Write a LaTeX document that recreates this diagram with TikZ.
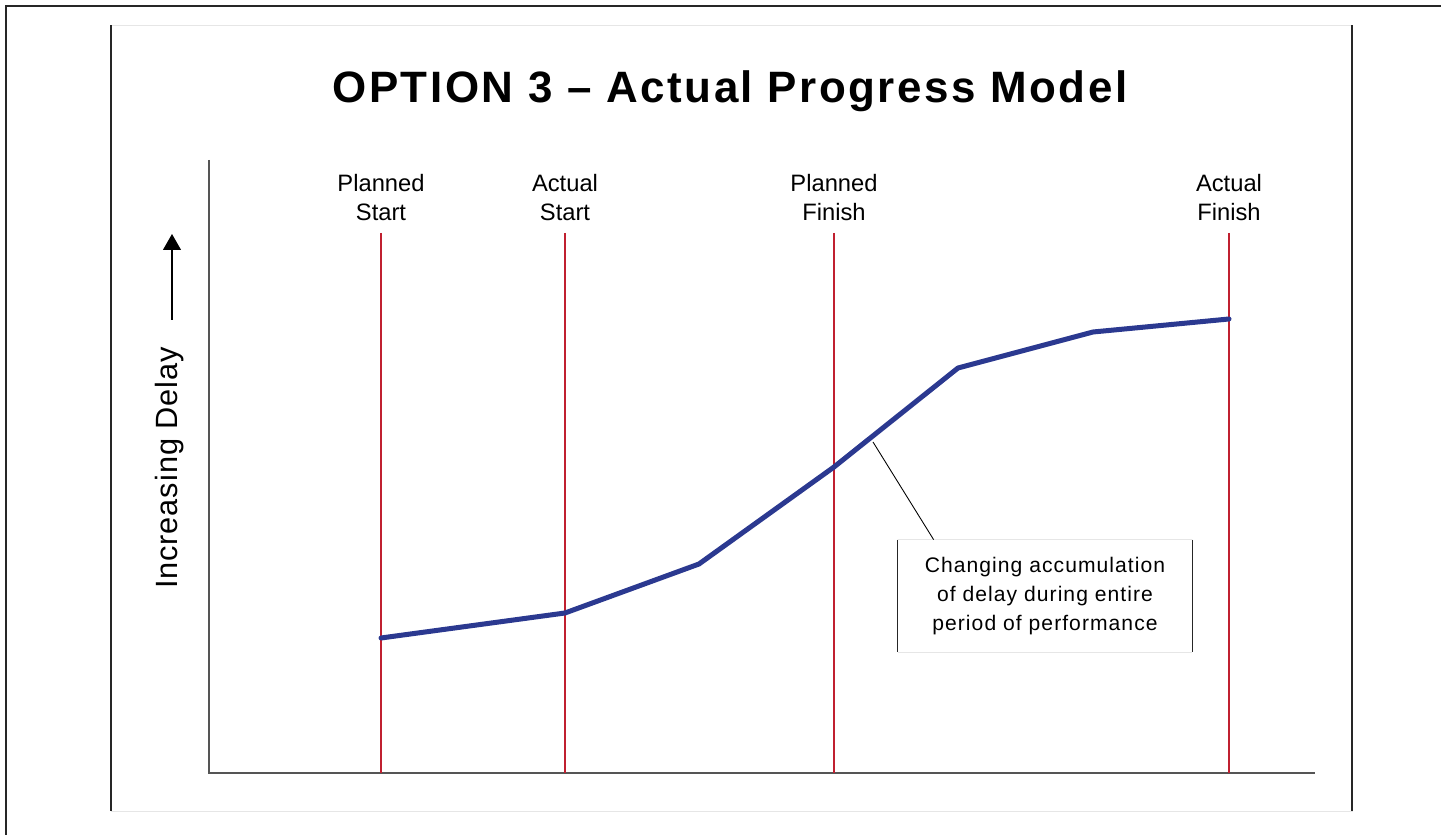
\documentclass[tikz,border=0pt]{standalone}
\usepackage{fontspec}
\setmainfont{Liberation Sans}
\newfontfamily\titlefont[LetterSpace=5.7]{Liberation Sans}
\newfontfamily\notefont[LetterSpace=5]{Liberation Sans}
\newfontfamily\sidefont[LetterSpace=3]{Liberation Sans}
\usetikzlibrary{arrows.meta,positioning,calc}
\definecolor{delayblue}{RGB}{43,57,144}
\definecolor{markred}{RGB}{192,32,48}
\definecolor{axisgray}{RGB}{85,85,85}
\definecolor{edgegray}{RGB}{230,230,230}

\begin{document}
\begin{tikzpicture}[x=0.02cm, y=0.02cm,
  frame/.style={line width=0.9pt, black!85},
  axis/.style={line width=0.85pt, axisgray},
  marker/.style={line width=0.6pt, markred},
  tag/.style={align=center, inner sep=0pt, font=\fontsize{13.5}{16.5}\selectfont},
  note/.style={align=center, inner sep=0pt, minimum width=5.88cm, minimum height=2.24cm,
    font=\notefont\fontsize{12}{16.5}\selectfont},
  progress/.style={line width=2.85pt, delayblue, line join=round, line cap=round}]
  \useasboundingbox (0,0) rectangle (1441,835);
  % frames
  \draw[frame] (6,0) -- (6,829) -- (1441,829);
  \draw[edgegray, line width=0.5pt] (111,24) rectangle (1352,810);
  \draw[frame] (111,24) -- (111,810);
  \draw[frame] (1352,24) -- (1352,810);
  % title
  \node[anchor=base, inner sep=0pt] (title) at (730,732)
    {\titlefont\fontsize{25}{30}\selectfont\bfseries OPTION 3 – Actual Progress Model};
  % axes
  \coordinate (origin) at (209,62);
  \coordinate (ytop) at (209,675);
  \coordinate (xend) at (1315,62);
  \draw[axis] (ytop) -- (origin) -- (xend);
  \node[rotate=90, inner sep=0pt, font=\sidefont\fontsize{17.5}{21}\selectfont] (ylab) at (170,367) {Increasing Delay};
  \coordinate (up-a) at (172,515);
  \coordinate (up-b) at (172,601);
  \draw[line width=0.6pt, -{Triangle[width=0.36cm,length=0.32cm]}] (up-a) -- (up-b);
  % milestones
  \foreach \x/\nm/\la/\lb in {381/ps/Planned/Start, 565/as/Actual/Start,
      834/pf/Planned/Finish, 1229/af/Actual/Finish}{
    \coordinate (\nm-top) at (\x,602);
    \coordinate (\nm-bot) at (\x,62);
    \node[tag, above=0.24cm of \nm-top] (\nm) {\la\\\lb};
    \draw[marker] (\nm-top) -- (\nm-bot);
  }
  % delay curve
  \draw[progress] (381,197) -- (565,222) -- (699,271) -- (834,368) -- (958,467) -- (1093,503) -- (1229,516);
  % callout
  \coordinate (lead) at (873,393);
  \node[note] (note) at (1045,239) {Changing accumulation\\of delay during entire\\period of performance};
  \draw[edgegray, line width=0.5pt] (note.north west) -- (note.north east) (note.south west) -- (note.south east);
  \draw[frame] (note.north west) -- (note.south west) (note.north east) -- (note.south east);
  \draw[line width=0.5pt] (lead) -- ($(note.north west)!0.122!(note.north east)$);
\end{tikzpicture}
\end{document}
